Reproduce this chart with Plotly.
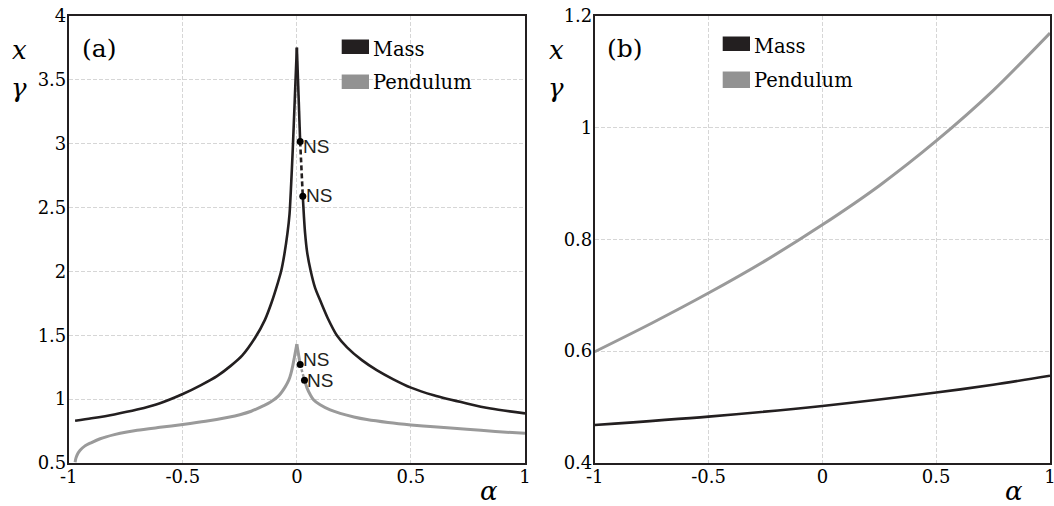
import plotly.graph_objects as go

W, H = 1054, 506

# ---------------- panel (a) data ----------------
mass_a_left_alpha = [-0.972, -0.9, -0.8, -0.7, -0.6, -0.5, -0.42, -0.35, -0.29, -0.24,
                     -0.183, -0.14, -0.11, -0.085, -0.069, -0.055, -0.041, -0.032,
                     -0.025, -0.018, -0.009, 0.0]
mass_a_left_y = [0.831, 0.850, 0.880, 0.918, 0.968, 1.04, 1.11, 1.18, 1.26, 1.34,
                 1.48, 1.62, 1.76, 1.9, 2.0, 2.13, 2.3, 2.45,
                 2.68, 2.95, 3.35, 3.75]

mass_a_peak_alpha = [0.0, 0.0145]
mass_a_peak_y = [3.75, 3.016]

mass_a_unstable_alpha = [0.0145, 0.02, 0.026]
mass_a_unstable_y = [3.016, 2.8, 2.588]

mass_a_right_alpha = [0.026, 0.031, 0.036, 0.045, 0.061, 0.08, 0.102, 0.135, 0.175, 0.22,
                      0.285, 0.35, 0.423, 0.5, 0.6, 0.745, 0.85, 1.0]
mass_a_right_y = [2.588, 2.43, 2.30, 2.15, 2.0, 1.87, 1.773, 1.635, 1.5, 1.405,
                  1.305, 1.227, 1.155, 1.09, 1.03, 0.966, 0.926, 0.888]

pend_a_left_alpha = [-0.972, -0.968, -0.96, -0.95, -0.93, -0.9, -0.862, -0.8, -0.745, -0.7,
                     -0.6, -0.5, -0.4, -0.3, -0.25, -0.2, -0.15, -0.117, -0.08, -0.051,
                     -0.035, -0.026, -0.018, -0.0105, 0.0]
pend_a_left_y = [0.505, 0.54, 0.575, 0.60, 0.632, 0.66, 0.69, 0.722, 0.743, 0.756,
                 0.779, 0.801, 0.826, 0.858, 0.878, 0.905, 0.945, 0.975, 1.025, 1.096,
                 1.15, 1.2, 1.26, 1.33, 1.43]

pend_a_peak_alpha = [0.0, 0.0146]
pend_a_peak_y = [1.43, 1.271]

pend_a_unstable_alpha = [0.0146, 0.0335]
pend_a_unstable_y = [1.271, 1.148]

pend_a_right_alpha = [0.0335, 0.044, 0.06, 0.073, 0.102, 0.146, 0.19, 0.25, 0.307, 0.4,
                      0.5, 0.6, 0.745, 0.87, 1.0]
pend_a_right_y = [1.148, 1.09, 1.03, 0.995, 0.955, 0.915, 0.888, 0.86, 0.84, 0.817,
                  0.798, 0.783, 0.764, 0.747, 0.732]

ns_mass_alpha = [0.0145, 0.026]
ns_mass_y = [3.016, 2.588]
ns_pend_alpha = [0.0146, 0.0335]
ns_pend_y = [1.271, 1.148]

# ---------------- panel (b) data ----------------
mass_b_alpha = [-1.0, -0.5, 0.0, 0.5, 0.75, 1.0]
mass_b_y = [0.468, 0.483, 0.502, 0.526, 0.540, 0.556]

pend_b_alpha = [-1.0, -0.75, -0.5, -0.25, 0.0, 0.25, 0.5, 0.75, 1.0]
pend_b_y = [0.599, 0.650, 0.704, 0.762, 0.826, 0.896, 0.976, 1.066, 1.169]

# ---------------- ticks ----------------
alpha_ticks = [-1, -0.5, 0, 0.5, 1]
alpha_ticktext = ["-1", "-0.5", "0", "0.5", "1"]
ya_ticks = [0.5, 1, 1.5, 2, 2.5, 3, 3.5, 4]
ya_ticktext = ["0.5", "1", "1.5", "2", "2.5", "3", "3.5", "4"]
yb_ticks = [0.4, 0.6, 0.8, 1.0, 1.2]
yb_ticktext = ["0.4", "0.6", "0.8", "1", "1.2"]

legend_labels = ["Mass", "Pendulum"]

BLACK = "#231f20"
GRAY = "#9a9a9a"
GRID = "#d6d6d6"
SERIF = "DejaVu Serif, serif"
SANS = "Liberation Sans, Arial, sans-serif"

fig = go.Figure()


def line(xs, ys, color, width, xa, ya, dash="solid", smooth=True):
    fig.add_trace(go.Scatter(x=xs, y=ys, mode="lines", xaxis=xa, yaxis=ya,
                             line=dict(color=color, width=width, dash=dash,
                                       shape="spline" if smooth else "linear",
                                       smoothing=0.8),
                             showlegend=False, hoverinfo="skip"))


# panel (a) curves
line(pend_a_left_alpha, pend_a_left_y, GRAY, 3, "x", "y")
line(pend_a_peak_alpha, pend_a_peak_y, GRAY, 3, "x", "y", smooth=False)
line(pend_a_unstable_alpha, pend_a_unstable_y, GRAY, 2.5, "x", "y", "3px,2px", smooth=False)
line(pend_a_right_alpha, pend_a_right_y, GRAY, 3, "x", "y")
line(mass_a_left_alpha, mass_a_left_y, BLACK, 2.6, "x", "y")
line(mass_a_peak_alpha, mass_a_peak_y, BLACK, 2.6, "x", "y", smooth=False)
line(mass_a_unstable_alpha, mass_a_unstable_y, BLACK, 2.6, "x", "y", "5px,3px", smooth=False)
line(mass_a_right_alpha, mass_a_right_y, BLACK, 2.6, "x", "y")

# Neimark-Sacker points
fig.add_trace(go.Scatter(x=ns_mass_alpha + ns_pend_alpha, y=ns_mass_y + ns_pend_y,
                         mode="markers", xaxis="x", yaxis="y",
                         marker=dict(color="black", size=7),
                         showlegend=False, hoverinfo="skip"))

# panel (b) curves
line(pend_b_alpha, pend_b_y, GRAY, 3, "x2", "y2")
line(mass_b_alpha, mass_b_y, BLACK, 2.6, "x2", "y2")

# plot-area positions in pixels
A_L, A_R, TOP, BOT = 68.7, 525.0, 15.7, 463.0
B_L, B_R = 594.7, 1050.0

axis_common = dict(showline=True, mirror=True, linecolor=BLACK, linewidth=1.6,
                   showgrid=True, gridcolor=GRID, gridwidth=1, griddash="4px,2px",
                   zeroline=False, ticks="", automargin=False, ticklabeloverflow="allow",
                   tickfont=dict(family=SERIF, size=18, color="black"))

fig.update_layout(
    width=W, height=H,
    margin=dict(l=0, r=0, t=0, b=0),
    paper_bgcolor="white", plot_bgcolor="white",
    showlegend=False,
    font=dict(family=SERIF),
    xaxis=dict(domain=[A_L / W, A_R / W], range=[-1, 1], anchor="y",
               tickvals=alpha_ticks, ticktext=alpha_ticktext, ticklabelstandoff=-3,
               **axis_common),
    yaxis=dict(domain=[1 - BOT / H, 1 - TOP / H], range=[0.5, 4], anchor="x",
               tickvals=ya_ticks, ticktext=ya_ticktext, ticklabelstandoff=-3,
               **axis_common),
    xaxis2=dict(domain=[B_L / W, B_R / W], range=[-1, 1], anchor="y2",
                tickvals=alpha_ticks, ticktext=alpha_ticktext, ticklabelstandoff=-3,
                **axis_common),
    yaxis2=dict(domain=[1 - BOT / H, 1 - TOP / H], range=[0.4, 1.2], anchor="x2",
                tickvals=yb_ticks, ticktext=yb_ticktext, ticklabelstandoff=-3,
                **axis_common),
)

shapes = []
annotations = []


def px_x(p):
    return p / W


def px_y(p):
    return 1 - p / H


def text(xp, yp, s, size, family=SERIF, xanchor="left", yanchor="middle", italic=False):
    annotations.append(dict(x=px_x(xp), y=px_y(yp), xref="paper", yref="paper",
                            text=s, showarrow=False, xanchor=xanchor, yanchor=yanchor,
                            font=dict(family=family, size=size, color="black",
                                      style="italic" if italic else "normal")))


def legend_box(x0, x1, y0, y1, color):
    shapes.append(dict(type="rect", xref="paper", yref="paper",
                       x0=px_x(x0), x1=px_x(x1), y0=px_y(y1), y1=px_y(y0),
                       fillcolor=color, line=dict(width=0)))


# legend of panel (a)
legend_box(341.7, 369.0, 39.5, 54.0, BLACK)
legend_box(341.7, 369.0, 74.5, 89.0, "#929292")
text(371, 49, legend_labels[0], 19.5)
text(371, 83, legend_labels[1], 19.5)

# legend of panel (b)
legend_box(722.7, 750.0, 36.5, 51.0, BLACK)
legend_box(722.7, 750.0, 71.5, 88.0, "#929292")
text(752, 46, legend_labels[0], 19.5)
text(752, 81, legend_labels[1], 19.5)

# panel tags
text(80, 48, "(a)", 25)
text(605, 48, "(b)", 25)

# axis symbols
for xp in (19, 556):
    text(xp, 50, "x", 26, xanchor="center", italic=True)
    text(xp, 88, "γ", 26, xanchor="center", italic=True)
text(489, 491, "α", 26, xanchor="center", italic=True)
text(1014, 491, "α", 26, xanchor="center", italic=True)

# NS labels next to the bifurcation points
ns_yshift = [-5, 1, 5, 0]
for (ax_, ay_), ys in zip(zip(ns_mass_alpha + ns_pend_alpha, ns_mass_y + ns_pend_y), ns_yshift):
    annotations.append(dict(x=ax_, y=ay_, xref="x", yref="y", text="NS", showarrow=False,
                            xanchor="left", yanchor="middle", xshift=1, yshift=ys,
                            font=dict(family=SANS, size=19, color=BLACK)))

fig.update_layout(shapes=shapes, annotations=annotations)

fig.write_html("out.html")
